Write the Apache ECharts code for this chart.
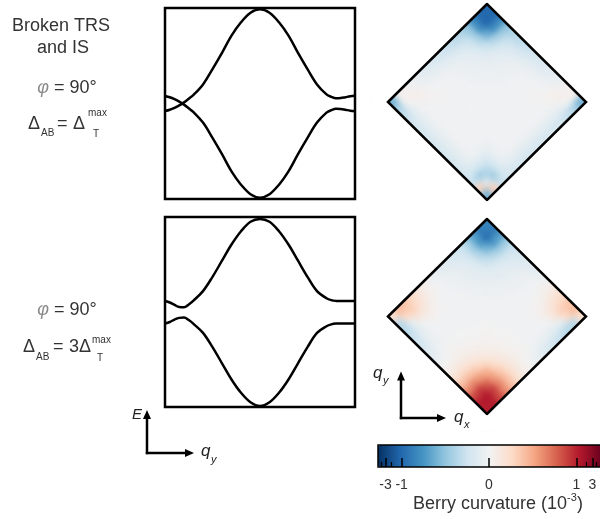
<!DOCTYPE html>
<html>
<head>
<meta charset="utf-8">
<script src="https://cdn.jsdelivr.net/npm/echarts@6/dist/echarts.min.js"></script>
<style>
  html, body { margin: 0; padding: 0; background: #fff; }
  #wrap { position: relative; width: 600px; height: 519px; }
  #field, #chart { position: absolute; left: 0; top: 0; width: 600px; height: 519px; }
  /* the curvature field is a smooth function: soften the cell grid */
  #field { filter: blur(3px); }
</style>
</head>
<body>
<div id="wrap">
  <div id="field"></div>
  <div id="chart"></div>
</div>
<script>
// ---- band structure along q_y (q in units of the zone edge, E normalised) ----
const qBand = [-1, -0.95, -0.9, -0.85, -0.8, -0.75, -0.7, -0.6, -0.5, -0.4, -0.3, -0.2, -0.1, 0,
               0.1, 0.2, 0.3, 0.4, 0.5, 0.6, 0.7, 0.75, 0.8, 0.85, 0.9, 0.95, 1];
// phi = 90 deg, Delta_AB = Delta_T^max
const bandUpperA = [-0.079, -0.065, -0.045, -0.02, 0.012, 0.05, 0.09, 0.2, 0.36, 0.53, 0.71, 0.85, 0.95, 0.986,
                    0.95, 0.85, 0.71, 0.53, 0.36, 0.2, 0.096, 0.07, 0.055, 0.057, 0.066, 0.075, 0.082];
const bandLowerA = [0.079, 0.065, 0.045, 0.02, -0.012, -0.05, -0.09, -0.2, -0.36, -0.53, -0.71, -0.85, -0.95, -0.986,
                    -0.95, -0.85, -0.71, -0.53, -0.36, -0.2, -0.096, -0.07, -0.055, -0.057, -0.066, -0.075, -0.082];
// phi = 90 deg, Delta_AB = 3 Delta_T^max
const bandUpperB = [0.116, 0.1, 0.075, 0.052, 0.05, 0.08, 0.12, 0.22, 0.37, 0.54, 0.71, 0.85, 0.95, 0.98,
                    0.95, 0.85, 0.71, 0.54, 0.37, 0.22, 0.145, 0.125, 0.117, 0.115, 0.115, 0.116, 0.116];
const bandLowerB = [-0.122, -0.105, -0.08, -0.062, -0.058, -0.085, -0.125, -0.22, -0.37, -0.54, -0.71, -0.85, -0.95, -0.99,
                    -0.95, -0.85, -0.71, -0.54, -0.37, -0.22, -0.15, -0.13, -0.122, -0.121, -0.121, -0.122, -0.122];

// ---- Berry curvature (units of 1e-3) on the rotated Brillouin-zone grid ----
// row r runs from the upper-left edge to the lower-right edge,
// column c from the lower-left edge to the upper-right edge.
const BZ_N = 16;
const berryA = [
  [-0.60, 0.04, 0.03, -0.04, -0.09, -0.13, -0.17, -0.21, -0.25, -0.29, -0.33, -0.38, -0.50, -0.80, -1.05, -1.00],
  [-0.40, 0.00, 0.05, 0.03, -0.05, -0.07, -0.09, -0.11, -0.14, -0.17, -0.21, -0.28, -0.46, -0.82, -1.15, -1.05],
  [-0.30, -0.10, 0.02, 0.03, -0.01, -0.02, -0.03, -0.05, -0.07, -0.10, -0.14, -0.22, -0.38, -0.62, -0.82, -0.80],
  [-0.25, -0.10, -0.02, -0.01, 0.015, -0.01, -0.02, -0.03, -0.05, -0.07, -0.10, -0.15, -0.27, -0.38, -0.46, -0.50],
  [-0.22, -0.10, -0.02, -0.02, -0.01, -0.01, -0.02, -0.025, -0.038, -0.06, -0.085, -0.12, -0.15, -0.22, -0.28, -0.38],
  [-0.20, -0.10, -0.02, -0.02, -0.02, -0.02, -0.02, -0.025, -0.03, -0.045, -0.063, -0.085, -0.10, -0.14, -0.21, -0.33],
  [-0.20, -0.10, -0.02, -0.02, -0.02, -0.02, -0.02, -0.02, -0.025, -0.032, -0.045, -0.06, -0.07, -0.10, -0.17, -0.29],
  [-0.20, -0.10, -0.02, -0.02, -0.02, -0.02, -0.02, -0.02, -0.022, -0.025, -0.03, -0.038, -0.05, -0.07, -0.14, -0.25],
  [-0.20, -0.10, -0.02, -0.02, -0.02, -0.02, -0.02, -0.02, -0.02, -0.02, -0.025, -0.025, -0.03, -0.05, -0.11, -0.21],
  [-0.20, -0.10, -0.02, -0.02, -0.02, -0.02, -0.02, -0.02, -0.02, -0.02, -0.02, -0.02, -0.02, -0.03, -0.09, -0.17],
  [-0.20, -0.10, -0.03, -0.02, -0.02, -0.02, -0.02, -0.02, -0.02, -0.02, -0.02, -0.01, -0.01, -0.02, -0.07, -0.13],
  [-0.21, -0.11, -0.06, -0.06, -0.07, -0.02, -0.02, -0.02, -0.02, -0.02, -0.02, -0.01, 0.015, -0.01, -0.05, -0.09],
  [-0.24, -0.22, -0.22, -0.18, -0.06, -0.02, -0.02, -0.02, -0.02, -0.02, -0.02, -0.02, -0.01, 0.03, 0.03, -0.04],
  [-0.30, -0.45, -0.35, -0.22, -0.06, -0.03, -0.02, -0.02, -0.02, -0.02, -0.02, -0.02, -0.02, 0.02, 0.05, 0.03],
  [0.30, -0.20, -0.45, -0.22, -0.11, -0.10, -0.10, -0.10, -0.10, -0.10, -0.10, -0.10, -0.10, -0.10, 0.00, 0.04],
  [-0.60, 0.30, -0.30, -0.24, -0.21, -0.20, -0.20, -0.20, -0.20, -0.20, -0.20, -0.22, -0.25, -0.30, -0.40, -0.60]
];
const berryB = [
  [0.20, 0.40, 0.35, 0.25, 0.14, 0.05, -0.04, -0.09, -0.13, -0.17, -0.21, -0.27, -0.44, -0.70, -0.90, -0.85],
  [-0.35, 0.25, 0.30, 0.20, 0.10, 0.03, -0.01, -0.04, -0.07, -0.11, -0.16, -0.25, -0.45, -0.74, -0.97, -0.90],
  [-0.35, -0.10, 0.15, 0.12, 0.05, 0.01, -0.02, -0.035, -0.055, -0.09, -0.13, -0.20, -0.37, -0.58, -0.74, -0.70],
  [-0.30, -0.12, -0.02, 0.04, 0.02, -0.01, -0.02, -0.03, -0.05, -0.075, -0.11, -0.16, -0.28, -0.37, -0.45, -0.44],
  [-0.25, -0.10, -0.03, -0.01, -0.01, -0.02, -0.02, -0.025, -0.04, -0.06, -0.09, -0.12, -0.16, -0.20, -0.25, -0.27],
  [-0.20, -0.08, -0.03, -0.02, -0.02, -0.02, -0.02, -0.02, -0.03, -0.045, -0.065, -0.09, -0.11, -0.13, -0.16, -0.21],
  [-0.14, -0.06, -0.02, -0.02, -0.02, -0.02, -0.02, -0.02, -0.025, -0.032, -0.045, -0.06, -0.075, -0.09, -0.11, -0.17],
  [-0.07, -0.02, 0.01, 0.00, 0.00, -0.01, -0.02, -0.02, -0.02, -0.025, -0.03, -0.04, -0.05, -0.055, -0.07, -0.13],
  [0.00, 0.015, 0.03, 0.02, 0.01, 0.00, 0.005, 0.00, -0.02, -0.02, -0.02, -0.025, -0.03, -0.035, -0.04, -0.09],
  [0.06, 0.08, 0.08, 0.06, 0.04, 0.02, 0.02, 0.005, -0.02, -0.02, -0.02, -0.02, -0.02, -0.02, -0.01, -0.04],
  [0.18, 0.21, 0.18, 0.13, 0.08, 0.045, 0.02, 0.00, -0.01, -0.02, -0.02, -0.02, -0.01, 0.01, 0.03, 0.05],
  [0.37, 0.39, 0.35, 0.26, 0.16, 0.08, 0.04, 0.01, 0.00, -0.02, -0.02, -0.01, 0.02, 0.05, 0.10, 0.14],
  [0.60, 0.63, 0.54, 0.45, 0.26, 0.13, 0.06, 0.02, 0.00, -0.02, -0.02, -0.01, 0.04, 0.12, 0.20, 0.25],
  [0.84, 0.90, 0.76, 0.54, 0.35, 0.18, 0.08, 0.03, 0.01, -0.02, -0.03, -0.03, -0.02, 0.15, 0.30, 0.35],
  [1.05, 1.15, 0.90, 0.63, 0.39, 0.21, 0.08, 0.015, -0.02, -0.06, -0.08, -0.10, -0.12, -0.10, 0.25, 0.40],
  [1.00, 1.05, 0.84, 0.60, 0.37, 0.18, 0.06, 0.00, -0.07, -0.14, -0.20, -0.25, -0.30, -0.35, -0.35, 0.20]
];

// Brillouin-zone outline in (q_x, q_y)
const bzOutline = [[-1, 0], [0, 1], [1, 0], [0, -1], [-1, 0], [0, 1]];

// colour bar: symmetric-log scale, ticks in units of 1e-3
const cbLimit = 5;
const cbMajorTicks = [-3, -1, 0, 1, 3];
const cbMinorTicks = [-4, -2, 2, 4];
const rdbu = ['#053061', '#2166ac', '#4393c3', '#92c5de', '#d1e5f0', '#f2f2f2',
              '#fddbc7', '#f4a582', '#d6604d', '#b2182b', '#67001f'];

// ---- scale helpers ----
const SYM_K = 0.388;
function symlog(v) { const a = Math.abs(v); return a <= 1 ? v : Math.sign(v) * (1 + SYM_K * Math.log10(a)); }
function symexp(t) { const a = Math.abs(t); return a <= 1 ? t : Math.sign(t) * Math.pow(10, (a - 1) / SYM_K); }
const tMax = symlog(cbLimit);

const FONT = '"Liberation Sans", Arial, Helvetica, sans-serif';
const INK = '#333';

// zone panels share one layout in both layers
const zoneGrids = [
  { left: 388, top: 4, width: 198, height: 196 },
  { left: 388, top: 219, width: 198, height: 195 }
];
const hiddenAxis = (i) => ({ gridIndex: i, type: 'value', min: -1, max: 1, show: false });

function bandSeries(idx, values) {
  return {
    type: 'line', xAxisIndex: idx, yAxisIndex: idx, silent: true,
    data: qBand.map((q, i) => [q, values[i]]),
    showSymbol: false, smooth: 0.35,
    lineStyle: { color: '#000', width: 2.5 }
  };
}

function heatSeries(idx, matrix) {
  const data = [];
  matrix.forEach((row, r) => row.forEach((v, c) => data.push([c, r, symlog(v), v])));
  const last = BZ_N - 1;
  return {
    type: 'custom', xAxisIndex: idx, yAxisIndex: idx, silent: true,
    data,
    renderItem(params, api) {
      const c = api.value(0), r = api.value(1);
      // cells on the zone boundary are padded outward so the softening keeps full colour up to the edge
      const c0 = c === 0 ? -1 : c, c1 = c === last ? BZ_N + 1 : c + 1;
      const r0 = r === 0 ? -1 : r, r1 = r === last ? BZ_N + 1 : r + 1;
      const pts = [[c0, r0], [c1, r0], [c1, r1], [c0, r1]].map(([cc, rr]) => {
        const s = cc / BZ_N, t = rr / BZ_N;
        return api.coord([-1 + s + t, s - t]);
      });
      const col = api.visual('color');
      return { type: 'polygon', shape: { points: pts }, style: { fill: col, stroke: col, lineWidth: 0.8 } };
    }
  };
}

// white surround outside the zone (hides the padding and softened spill past the edges)
function surroundSeries(idx) {
  return {
    type: 'custom', xAxisIndex: idx, yAxisIndex: idx, silent: true, z: 3,
    data: [bzOutline[0]],
    renderItem(params, api) {
      const L = api.coord(bzOutline[0]), T = api.coord(bzOutline[1]);
      const R = api.coord(bzOutline[2]), B = api.coord(bzOutline[3]);
      const e = 16;
      const polys = [
        [[L[0] - e, L[1]], L, T, [T[0], T[1] - e], [L[0] - e, T[1] - e]],
        [[T[0], T[1] - e], T, R, [R[0] + e, R[1]], [R[0] + e, T[1] - e]],
        [[R[0] + e, R[1]], R, B, [B[0], B[1] + e], [R[0] + e, B[1] + e]],
        [[B[0], B[1] + e], B, L, [L[0] - e, L[1]], [L[0] - e, B[1] + e]]
      ];
      return {
        type: 'group',
        children: polys.map(p => ({ type: 'polygon', shape: { points: p }, style: { fill: '#fff', stroke: '#fff', lineWidth: 1 } }))
      };
    }
  };
}

function outlineSeries(idx) {
  return {
    type: 'line', xAxisIndex: idx, yAxisIndex: idx, silent: true, z: 5,
    data: bzOutline, showSymbol: false,
    lineStyle: { color: '#000', width: 2.5, join: 'miter', cap: 'butt' }
  };
}

function txt(x, y, text, size, extra) {
  return {
    type: 'text', x, y, silent: true, z: 100,
    style: Object.assign({ text, fontSize: size, fontFamily: FONT, fill: INK, align: 'left', verticalAlign: 'middle' }, extra || {})
  };
}
function seg(x1, y1, x2, y2) {
  return { type: 'line', silent: true, z: 100, shape: { x1, y1, x2, y2 }, style: { stroke: '#000', lineWidth: 2.5 } };
}
function head(points) {
  return { type: 'polygon', silent: true, z: 100, shape: { points }, style: { fill: '#000' } };
}

const phiRich = { p: { fontStyle: 'italic', fill: '#8a8a8a', fontSize: 18, fontFamily: FONT } };

// ---- layer 1: curvature field ----
const fieldOption = {
  animation: false,
  grid: zoneGrids,
  xAxis: [hiddenAxis(0), hiddenAxis(1)],
  yAxis: [hiddenAxis(0), hiddenAxis(1)],
  visualMap: {
    type: 'continuous', show: false, min: -tMax, max: tMax, dimension: 2, seriesIndex: [0, 1],
    inRange: { color: rdbu }
  },
  series: [heatSeries(0, berryA), heatSeries(1, berryB)]
};

// ---- layer 2: bands, outlines, colour bar and annotations ----
const option = {
  animation: false,
  backgroundColor: 'transparent',
  grid: [
    { left: 165, top: 8, width: 190, height: 191, show: true, borderColor: '#000', borderWidth: 2.5, backgroundColor: '#fff' },
    { left: 165, top: 217, width: 190, height: 190, show: true, borderColor: '#000', borderWidth: 2.5, backgroundColor: '#fff' },
    zoneGrids[0], zoneGrids[1],
    { left: 378, top: 445, width: 224, height: 22 }
  ],
  xAxis: [
    hiddenAxis(0), hiddenAxis(1), hiddenAxis(2), hiddenAxis(3),
    {
      gridIndex: 4, type: 'value', min: -tMax, max: tMax, position: 'bottom', z: 20,
      axisLine: { show: false }, splitLine: { show: false },
      axisTick: { show: true, inside: true, length: 9, lineStyle: { color: '#000', width: 1.5 },
                  customValues: cbMajorTicks.map(symlog) },
      axisLabel: { show: true, margin: 11, color: INK, fontSize: 14, fontFamily: FONT,
                   customValues: cbMajorTicks.map(symlog),
                   formatter: (t) => String(Math.round(symexp(t))) }
    },
    {
      gridIndex: 4, type: 'value', min: -tMax, max: tMax, position: 'bottom', z: 20,
      axisLine: { show: false }, splitLine: { show: false }, axisLabel: { show: false },
      axisTick: { show: true, inside: true, length: 5, lineStyle: { color: '#000', width: 1.2 },
                  customValues: cbMinorTicks.map(symlog) }
    }
  ],
  yAxis: [hiddenAxis(0), hiddenAxis(1), hiddenAxis(2), hiddenAxis(3),
          { gridIndex: 4, type: 'value', min: 0, max: 1, show: false }],
  visualMap: {
    type: 'continuous', min: -tMax, max: tMax, seriesIndex: [],
    inRange: { color: rdbu },
    orient: 'horizontal', left: 378, top: 445, itemWidth: 22, itemHeight: 224,
    calculable: false, text: null, showLabel: false, padding: 0, hoverLink: false
  },
  series: [
    bandSeries(0, bandUpperA), bandSeries(0, bandLowerA),
    bandSeries(1, bandUpperB), bandSeries(1, bandLowerB),
    surroundSeries(2), surroundSeries(3),
    outlineSeries(2), outlineSeries(3)
  ],
  graphic: [
    // parameter annotations
    txt(61, 26, 'Broken TRS', 18, { align: 'center' }),
    txt(63, 48, 'and IS', 18, { align: 'center' }),
    txt(67, 88, '{p|φ} = 90°', 18, { align: 'center', rich: phiRich }),
    txt(28, 124, 'Δ', 18), txt(41, 133, 'AB', 10), txt(57, 124, '=', 18),
    txt(73, 124, 'Δ', 18), txt(88, 113, 'max', 10), txt(93, 134, 'T', 10),

    txt(67, 310, '{p|φ} = 90°', 18, { align: 'center', rich: phiRich }),
    txt(23, 347, 'Δ', 18), txt(36, 357, 'AB', 10), txt(53, 347, '=', 18),
    txt(69, 347, '3Δ', 18), txt(92, 340, 'max', 10), txt(97, 358, 'T', 10),

    // E vs q_y axes
    seg(147, 454.2, 147, 418), head([[147, 410], [143, 419], [151, 419]]),
    seg(145.8, 453, 185, 453), head([[194, 453], [185, 449], [185, 457]]),
    txt(137, 415, 'E', 15, { align: 'center', fontStyle: 'italic', fill: '#222' }),
    txt(201, 451, 'q', 17, { fontStyle: 'italic', fill: '#222' }),
    txt(211, 460, 'y', 11, { fontStyle: 'italic', fill: '#222' }),

    // q_x, q_y axes of the zone
    seg(401, 419.2, 401, 380), head([[401, 371.5], [397, 380.5], [405, 380.5]]),
    seg(399.8, 418, 437, 418), head([[446, 418], [437, 414], [437, 422]]),
    txt(373, 373, 'q', 17, { fontStyle: 'italic', fill: '#222' }),
    txt(383, 381, 'y', 11, { fontStyle: 'italic', fill: '#222' }),
    txt(454, 417, 'q', 17, { fontStyle: 'italic', fill: '#222' }),
    txt(464, 425, 'x', 11, { fontStyle: 'italic', fill: '#222' }),

    // colour-bar frame and title
    { type: 'rect', silent: true, z: 10, shape: { x: 378, y: 445, width: 224, height: 22 },
      style: { fill: 'none', stroke: '#000', lineWidth: 1.5 } },
    txt(567, 504, 'Berry curvature (10', 18, { align: 'right' }),
    txt(567, 498, '-3', 11),
    txt(577, 504, ')', 18)
  ]
};

echarts.init(document.getElementById('field'), null, { renderer: 'canvas' }).setOption(fieldOption);
echarts.init(document.getElementById('chart'), null, { renderer: 'canvas' }).setOption(option);
</script>
</body>
</html>
